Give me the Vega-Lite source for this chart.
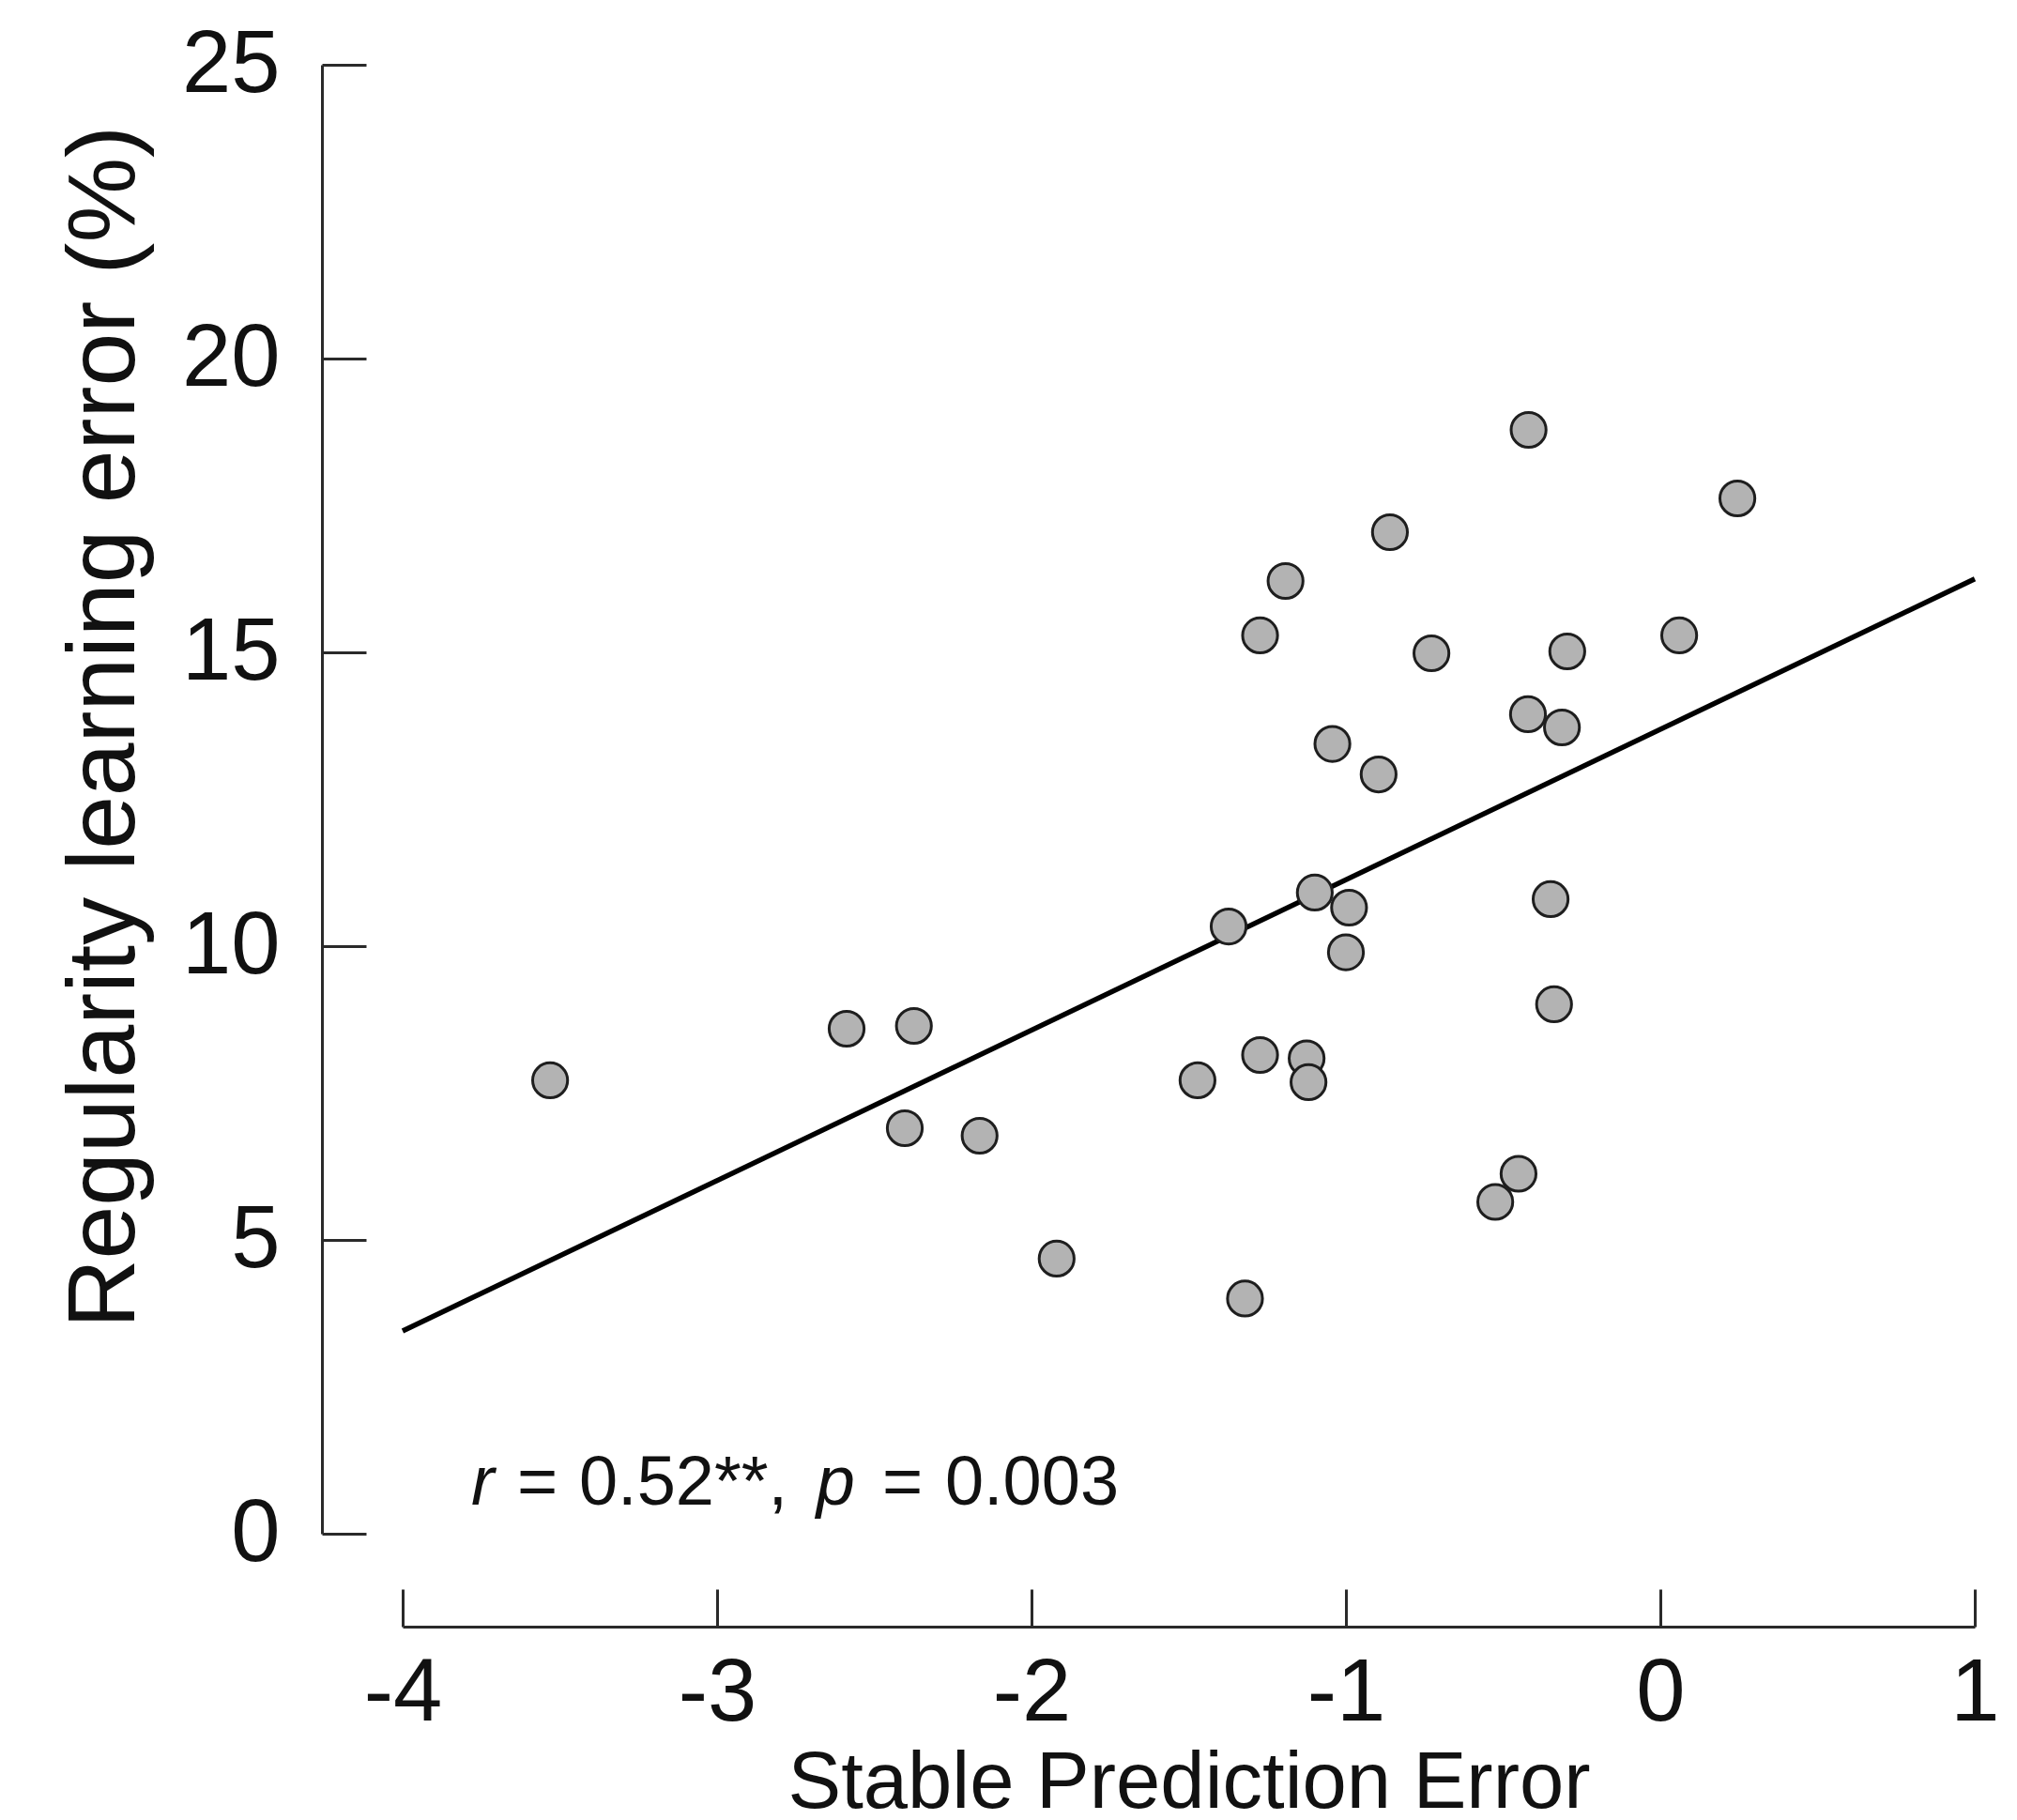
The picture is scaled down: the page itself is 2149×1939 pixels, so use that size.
{
  "$schema": "https://vega.github.io/schema/vega-lite/v6.json",
  "width": 1675,
  "height": 1565,
  "autosize": {"type": "none"},
  "padding": {"left": 429, "top": 69, "right": 45, "bottom": 305},
  "background": "white",
  "config": {
    "view": {"stroke": null},
    "font": "Liberation Sans",
    "axis": {
      "grid": false,
      "domainColor": "#2a2a2a",
      "domainWidth": 3,
      "tickColor": "#2a2a2a",
      "tickWidth": 3,
      "labelColor": "#111111",
      "titleColor": "#111111",
      "labelFont": "Liberation Sans",
      "titleFont": "Liberation Sans",
      "titleFontWeight": "normal"
    }
  },
  "datasets": {
    "points": [
      {"spe": -3.531, "rle": 7.716},
      {"spe": -2.588, "rle": 8.594},
      {"spe": -2.374, "rle": 8.642},
      {"spe": -2.403, "rle": 6.901},
      {"spe": -2.165, "rle": 6.773},
      {"spe": -1.920, "rle": 4.681},
      {"spe": -1.472, "rle": 7.716},
      {"spe": -1.373, "rle": 10.335},
      {"spe": -1.321, "rle": 4.002},
      {"spe": -1.273, "rle": 8.147},
      {"spe": -1.273, "rle": 15.288},
      {"spe": -1.192, "rle": 16.214},
      {"spe": -0.419, "rle": 18.786},
      {"spe": 0.245, "rle": 17.620},
      {"spe": -0.860, "rle": 17.045},
      {"spe": -0.728, "rle": 14.984},
      {"spe": -0.296, "rle": 15.016},
      {"spe": 0.060, "rle": 15.288},
      {"spe": -0.421, "rle": 13.946},
      {"spe": -0.313, "rle": 13.722},
      {"spe": -1.043, "rle": 13.441},
      {"spe": -0.896, "rle": 12.923},
      {"spe": -1.099, "rle": 10.911},
      {"spe": -0.990, "rle": 10.655},
      {"spe": -1.000, "rle": 9.895},
      {"spe": -0.349, "rle": 10.799},
      {"spe": -0.338, "rle": 9.010},
      {"spe": -1.125, "rle": 8.091},
      {"spe": -1.119, "rle": 7.684},
      {"spe": -0.451, "rle": 6.126},
      {"spe": -0.525, "rle": 5.647}
    ],
    "fit": [
      {"spe": -4, "rle": 3.45},
      {"spe": 1, "rle": 16.25}
    ],
    "annot": [
      {"spe": -3.782, "rle": 0.495, "txt": "r", "ital": true},
      {"spe": -3.636, "rle": 0.495, "txt": "=", "ital": false},
      {"spe": -3.439, "rle": 0.495, "txt": "0.52**,", "ital": false},
      {"spe": -2.684, "rle": 0.495, "txt": "p", "ital": true},
      {"spe": -2.475, "rle": 0.495, "txt": "=", "ital": false},
      {"spe": -2.275, "rle": 0.495, "txt": "0.003", "ital": false}
    ]
  },
  "encoding": {
    "x": {
      "field": "spe",
      "type": "quantitative",
      "scale": {"domain": [-4, 1], "nice": false, "zero": false},
      "axis": {
        "title": "Stable Prediction Error",
        "values": [-4, -3, -2, -1, 0, 1],
        "labelExpr": "toString(datum.value)",
        "offset": 99,
        "tickSize": -40,
        "labelPadding": 65,
        "labelFontSize": 94,
        "labelFlush": false,
        "titleFontSize": 85,
        "titleBaseline": "alphabetic",
        "titleY": 192
      }
    },
    "y": {
      "field": "rle",
      "type": "quantitative",
      "scale": {"domain": [0, 25], "nice": false, "zero": false},
      "axis": {
        "title": "Regularity learning error (%)",
        "values": [0, 5, 10, 15, 20, 25],
        "labelExpr": "toString(datum.value)",
        "offset": 86,
        "tickSize": -47,
        "labelPadding": 92,
        "labelFontSize": 94,
        "labelFlush": false,
        "titleFontSize": 102,
        "titleBaseline": "alphabetic",
        "titleAngle": -90,
        "titleX": -201,
        "titleY": 705
      }
    }
  },
  "layer": [
    {
      "data": {"name": "fit"},
      "mark": {"type": "line", "color": "#000000", "strokeWidth": 5.5}
    },
    {
      "data": {"name": "points"},
      "mark": {"type": "point", "shape": "circle", "filled": false, "fill": "#b3b3b3", "fillOpacity": 1, "stroke": "#1e1e1e", "strokeWidth": 3, "size": 1385, "opacity": 1}
    },
    {
      "data": {"name": "annot"},
      "transform": [{"filter": "datum.ital"}],
      "mark": {"type": "text", "align": "left", "baseline": "alphabetic", "fontSize": 74, "fontStyle": "italic", "color": "#111111"},
      "encoding": {"text": {"field": "txt"}}
    },
    {
      "data": {"name": "annot"},
      "transform": [{"filter": "!datum.ital"}],
      "mark": {"type": "text", "align": "left", "baseline": "alphabetic", "fontSize": 74, "color": "#111111"},
      "encoding": {"text": {"field": "txt"}}
    }
  ]
}
